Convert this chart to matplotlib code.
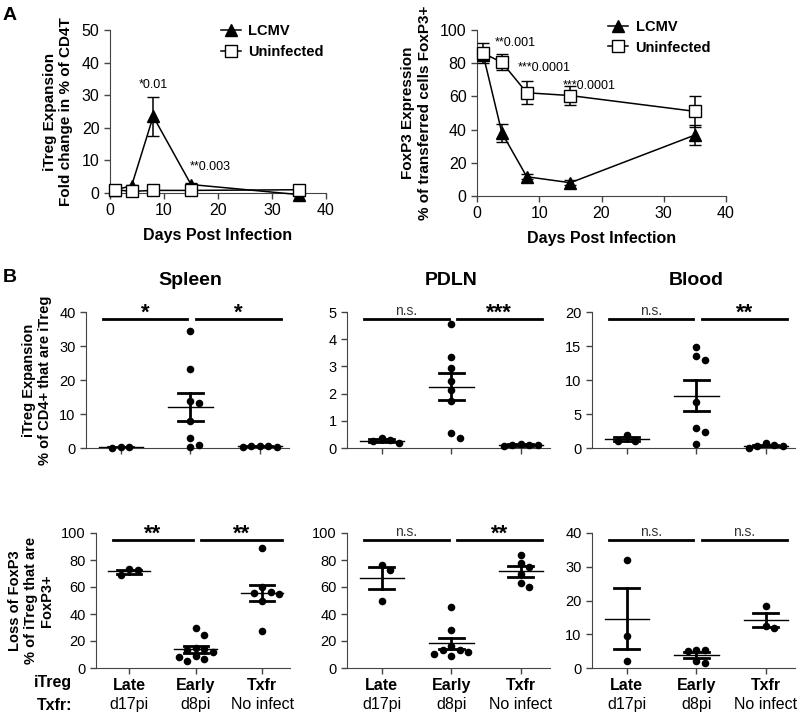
import numpy as np
import matplotlib
matplotlib.use("Agg")
import matplotlib.pyplot as plt
from matplotlib.lines import Line2D

plt.rcParams['font.family'] = ['Liberation Sans', 'DejaVu Sans']
plt.rcParams['axes.edgecolor'] = '#444444'
plt.rcParams['xtick.color'] = '#444444'
plt.rcParams['ytick.color'] = '#444444'
plt.rcParams['xtick.labelcolor'] = 'black'
plt.rcParams['ytick.labelcolor'] = 'black'

# ---- Panel A data ----
days = [1, 4, 8, 15, 35]
exp_lcmv = [1.0, 2.2, 23.5, 2.6, -0.5]
exp_lcmv_err = [0.3, 0.4, 6.0, 0.4, 0.3]
exp_uninf = [1.0, 0.5, 0.8, 0.8, 1.0]
exp_uninf_err = [0.3, 0.3, 0.3, 0.3, 0.3]
exp_notes = ["*0.01", "**0.003"]

foxp3_lcmv = [85, 38, 11.6, 8, 36.7]
foxp3_lcmv_err = [3, 5.3, 1.5, 1.5, 6]
foxp3_uninf = [86, 80.5, 62.2, 60.5, 51]
foxp3_uninf_err = [6, 4.8, 6.8, 5.7, 9.5]
foxp3_notes = ["**0.001", "***0.0001", "***0.0001"]

# ---- Panel B data ----
tissues = ["Spleen", "PDLN", "Blood"]
groups = ["Late", "Early", "Txfr"]
txfr_times = ["d17pi", "d8pi", "No infect"]

spleen_exp = [[0.3, 0.0, 0.3],
              [34.5, 23.2, 13.7, 13.3, 7.8, 2.8, 1.0, 0.3],
              [0.3, 0.5, 0.6, 0.6, 0.4]]
spleen_exp_mean = [0.2, 12.2, 0.45]
spleen_exp_sem = [(0.05, 0.35), (7.9, 16.3), (0.35, 0.55)]
spleen_exp_sig = ["*", "*"]

pdln_exp = [[0.36, 0.3, 0.2, 0.24],
            [4.55, 3.35, 2.95, 2.46, 2.13, 1.74, 0.54, 0.36],
            [0.1, 0.1, 0.15, 0.1, 0.08]]
pdln_exp_mean = [0.27, 2.26, 0.11]
pdln_exp_sem = [(0.22, 0.32), (1.76, 2.76), (0.09, 0.13)]
pdln_exp_sig = ["n.s.", "***"]

blood_exp = [[1.9, 1.0, 1.1],
             [14.8, 13.5, 12.9, 6.7, 3.0, 2.4, 0.6],
             [0.7, 0.3, 0.0, 0.3, 0.5]]
blood_exp_mean = [1.35, 7.7, 0.36]
blood_exp_sem = [(1.1, 1.65), (5.45, 10.0), (0.2, 0.5)]
blood_exp_sig = ["n.s.", "**"]

spleen_loss = [[73, 69, 72.5],
               [30, 24.5, 15, 14, 13, 12, 9, 8.5, 6.5, 5.5],
               [89, 60, 56, 55, 55.5, 50, 27.5]]
spleen_loss_mean = [71.5, 13.8, 55.5]
spleen_loss_sem = [(70, 72.5), (11.4, 16.5), (49.4, 61.8)]
spleen_loss_sig = ["**", "**"]

pdln_loss = [[76.5, 72.8, 50],
             [45.5, 28.5, 16, 13, 11.5, 9, 10.5, 13],
             [83.7, 77.7, 74.5, 69.7, 60, 63]]
pdln_loss_mean = [66.5, 18.4, 71.5]
pdln_loss_sem = [(58.3, 75), (14.3, 22.5), (67.7, 75.2)]
pdln_loss_sig = ["n.s.", "**"]

blood_loss = [[32, 9.4, 2.2],
              [5.2, 5.0, 5.3, 1.5, 2.2],
              [18.3, 11.8, 12.4]]
blood_loss_mean = [14.6, 3.8, 14.2]
blood_loss_sem = [(5.5, 23.6), (3.0, 4.6), (12.1, 16.2)]
blood_loss_sig = ["n.s.", "n.s."]

W, H = 800, 715
fig = plt.figure(figsize=(W / 100, H / 100), dpi=100)


def px_axes(left, top, right, bottom):
    return fig.add_axes([left / W, 1 - bottom / H, (right - left) / W, (bottom - top) / H])


def style_axes(ax, size=10.5):
    ax.spines['top'].set_visible(False)
    ax.spines['right'].set_visible(False)
    ax.tick_params(direction='out', length=4, width=1, labelsize=size)


# ---------- Panel A ----------
axA1 = px_axes(110, 30, 326, 193)
axA2 = px_axes(477, 30, 726, 196)

for ax, l_y, l_e, u_y, u_e, ymax, leg_xy in [
        (axA1, exp_lcmv, exp_lcmv_err, exp_uninf, exp_uninf_err, 50, (0.99, 1.035)),
        (axA2, foxp3_lcmv, foxp3_lcmv_err, foxp3_uninf, foxp3_uninf_err, 100, (0.94, 1.06))]:
    ax.errorbar(days, l_y, yerr=l_e, color='black', lw=1.1, capsize=4,
                marker='^', ms=8, mfc='black', mec='black', clip_on=False,
                zorder=3, label='LCMV')
    ax.errorbar(days, u_y, yerr=u_e, color='black', lw=1.1, capsize=4,
                marker='s', ms=8, mfc='white', mec='black', clip_on=False,
                zorder=4, label='Uninfected')
    ax.set_xlim(0, 40)
    ax.set_ylim(0, ymax)
    ax.set_xticks([0, 10, 20, 30, 40])
    style_axes(ax, 11.5)
    ax.set_xlabel("Days Post Infection", fontsize=11.5, fontweight='bold', labelpad=7)
    handles = [Line2D([], [], color='black', lw=1.1, marker='^', ms=8, mfc='black'),
               Line2D([], [], color='black', lw=1.1, marker='s', ms=8, mfc='white')]
    ax.legend(handles, ['LCMV', 'Uninfected'], loc='upper right',
              bbox_to_anchor=leg_xy, frameon=False, handlelength=1.4,
              handletextpad=0.5, borderpad=0, borderaxespad=0, labelspacing=0.45,
              prop={'weight': 'bold', 'size': 10.5})

axA1.set_yticks([0, 10, 20, 30, 40, 50])
axA1.set_ylabel("iTreg Expansion\nFold change in % of CD4T", fontsize=11,
                fontweight='bold', labelpad=6)
axA1.text(8, 33, exp_notes[0], ha='center', va='center', fontsize=9)
axA1.text(14.8, 8, exp_notes[1], ha='left', va='center', fontsize=9)

axA2.set_yticks([0, 20, 40, 60, 80, 100])
axA2.set_ylabel("FoxP3 Expression\n% of transferred cells FoxP3+", fontsize=11,
                fontweight='bold', labelpad=6)
axA2.text(2.9, 92, foxp3_notes[0], ha='left', va='center', fontsize=9)
axA2.text(6.6, 77, foxp3_notes[1], ha='left', va='center', fontsize=9)
axA2.text(13.7, 66, foxp3_notes[2], ha='left', va='center', fontsize=9)

fig.text(3 / W, 1 - 15 / H, "A", fontsize=14, fontweight='bold', va='center', ha='left')
fig.text(3 / W, 1 - 278 / H, "B", fontsize=14, fontweight='bold', va='center', ha='left')


# ---------- Panel B ----------
def swarm_offsets(ax, values, diam=8.5):
    """Place dots side by side when they would overlap (in pixels)."""
    xpx_per = ax.transData.transform([(1, 0)])[0][0] - ax.transData.transform([(0, 0)])[0][0]
    ypx = [ax.transData.transform([(0, v)])[0][1] for v in values]
    order = np.argsort(ypx)[::-1]
    placed = []
    offs = np.zeros(len(values))
    for i in order:
        for k in range(0, 20):
            cand = 0 if k == 0 else ((k + 1) // 2) * (1 if k % 2 else -1) * diam
            ok = all((cand - px) ** 2 + (ypx[i] - py) ** 2 >= (diam * 0.95) ** 2 for px, py in placed)
            if ok:
                placed.append((cand, ypx[i]))
                offs[i] = cand / xpx_per
                break
    return offs


def scatter_panel(ax, data, means, sems, sig, ymax, step):
    ax.set_xlim(-0.5, 2.42)
    ax.set_ylim(0, ymax)
    ax.set_yticks(np.arange(0, ymax + step / 2, step))
    style_axes(ax)
    ax.set_xticks([0, 1, 2])
    for gi, vals in enumerate(data):
        offs = swarm_offsets(ax, vals)
        ax.scatter(gi + offs, vals, s=30, color='black', zorder=3, clip_on=False, lw=0)
        ax.plot([gi - 0.32, gi + 0.32], [means[gi]] * 2, color='black', lw=1.0, zorder=4)
        lo, hi = sems[gi]
        ax.plot([gi, gi], [lo, hi], color='black', lw=2, zorder=4)
        for v in (lo, hi):
            ax.plot([gi - 0.18, gi + 0.18], [v, v], color='black', lw=2, zorder=4)
    ybar = 0.945 * ymax
    for (x0, x1), s in zip([(-0.25, 0.96), (1.08, 2.3)], sig):
        ax.plot([x0, x1], [ybar, ybar], color='black', lw=2, clip_on=False)
        if s == "n.s.":
            ax.text((x0 + x1) / 2, ybar + 0.01 * ymax, s, ha='center', va='bottom',
                    fontsize=10, color='#333333')
        else:
            ax.text((x0 + x1) / 2, ybar - 0.03 * ymax, s, ha='center', va='bottom',
                    fontsize=16, fontweight='bold')


top_axes = [px_axes(86, 312, 289, 448), px_axes(347, 312, 550, 448), px_axes(592, 312, 795, 448)]
bot_axes = [px_axes(96, 533, 290, 668), px_axes(347, 533, 550, 668), px_axes(592, 533, 795, 668)]

top_sets = [(spleen_exp, spleen_exp_mean, spleen_exp_sem, spleen_exp_sig, 40, 10),
            (pdln_exp, pdln_exp_mean, pdln_exp_sem, pdln_exp_sig, 5, 1),
            (blood_exp, blood_exp_mean, blood_exp_sem, blood_exp_sig, 20, 5)]
bot_sets = [(spleen_loss, spleen_loss_mean, spleen_loss_sem, spleen_loss_sig, 100, 20),
            (pdln_loss, pdln_loss_mean, pdln_loss_sem, pdln_loss_sig, 100, 20),
            (blood_loss, blood_loss_mean, blood_loss_sem, blood_loss_sig, 40, 10)]

for ax, name, args in zip(top_axes, tissues, top_sets):
    scatter_panel(ax, *args)
    ax.set_xticklabels([])
    ax.text(1, 1.235, name, transform=ax.get_xaxis_transform(), ha='center',
            va='center', fontsize=14, fontweight='bold')

for ax, args in zip(bot_axes, bot_sets):
    scatter_panel(ax, *args)
    ax.set_xticklabels(groups, fontsize=11.5, fontweight='bold')
    ax.tick_params(axis='x', pad=3)
    for gi, t in enumerate(txfr_times):
        ax.text(gi, -0.27, t, transform=ax.get_xaxis_transform(), ha='center',
                va='center', fontsize=11.5)

top_axes[0].set_ylabel("iTreg Expansion\n% of CD4+ that are iTreg", fontsize=10.5,
                       fontweight='bold', labelpad=5)
bot_axes[0].set_ylabel("Loss of FoxP3\n% of iTreg that are\nFoxP3+", fontsize=10.5,
                       fontweight='bold', labelpad=5)

fig.text(72 / W, 1 - 683 / H, "iTreg", fontsize=11.5, fontweight='bold', ha='right', va='center')
fig.text(72 / W, 1 - 705 / H, "Txfr:", fontsize=11.5, fontweight='bold', ha='right', va='center')

fig.savefig("out.png", dpi=100)
